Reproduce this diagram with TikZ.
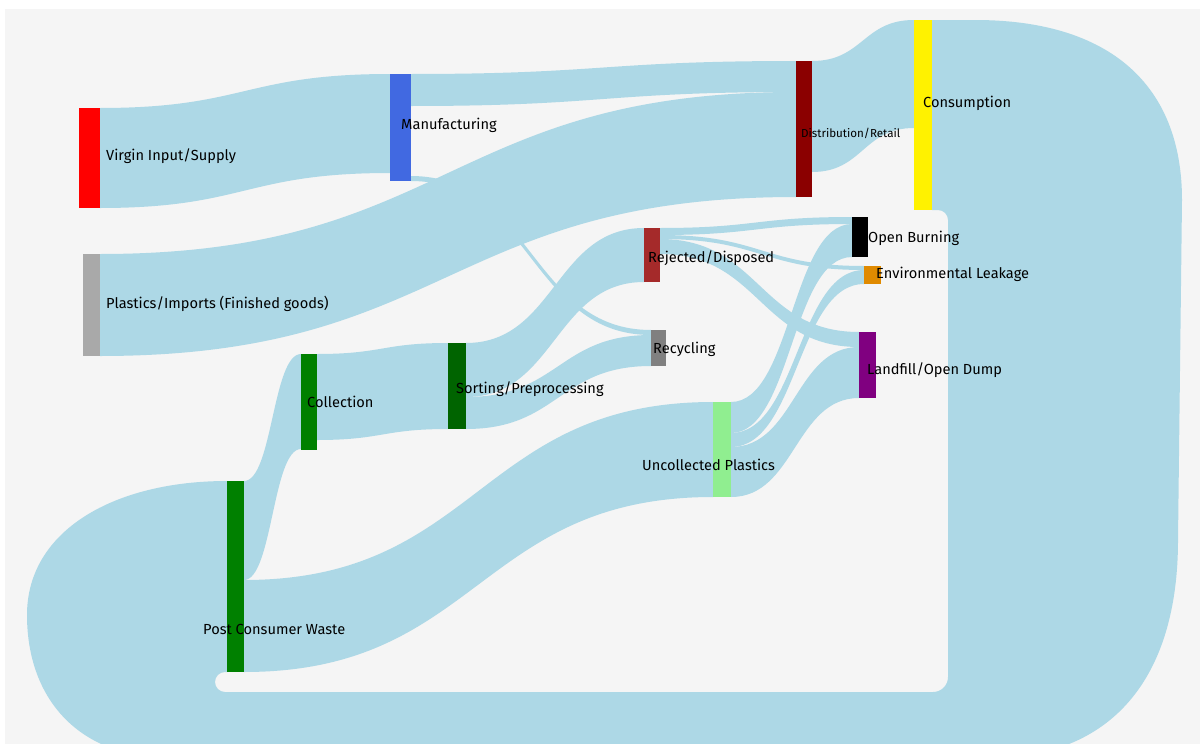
\documentclass[tikz,border=0pt]{standalone}
\usepackage{fontspec}
\setmainfont{Fira Sans}
\usetikzlibrary{calc}

\definecolor{flowblue}{HTML}{ADD8E6}
\definecolor{paper}{HTML}{F5F5F5}
\definecolor{royal}{HTML}{4169E1}
\definecolor{greyimp}{HTML}{A9A9A9}
\definecolor{darkredc}{HTML}{8B0000}
\definecolor{brownc}{HTML}{A52A2A}
\definecolor{lightgreenc}{HTML}{90EE90}
\definecolor{orangec}{HTML}{E08A00}
\definecolor{purplec}{HTML}{800080}
\definecolor{greenc}{HTML}{008000}
\definecolor{darkgreenc}{HTML}{006400}

\tikzset{
  bar/.style={rectangle, inner sep=0pt, outer sep=0pt, anchor=north west, draw=none},
  flow/.style={fill=flowblue},
  lbl/.style={anchor=west, inner sep=0pt, text=black, font=\fontsize{14.6}{17}\selectfont}
}

% band between two bars: source, top/bottom offset, target, top/bottom offset
\newcommand\band[6]{%
  \fill[flow] let \p1=(#1.north east), \p2=(#4.north west) in
    (\x1,\y1-#2pt) .. controls ({0.5*\x1+0.5*\x2},\y1-#2pt) and ({0.5*\x1+0.5*\x2},\y2-#5pt) .. (\x2,\y2-#5pt)
    -- (\x2,\y2-#6pt) .. controls ({0.5*\x1+0.5*\x2},\y2-#6pt) and ({0.5*\x1+0.5*\x2},\y1-#3pt) .. (\x1,\y1-#3pt) -- cycle;}

\begin{document}
\begin{tikzpicture}[x=1pt, y=-1pt]
  \useasboundingbox (0,0) rectangle (1200,744);
  \fill[white] (0,0) rectangle (1200,744);
  \fill[paper] (5,9) rectangle (1200,744);

  % bars
  \node[bar, fill=red, minimum width=21pt, minimum height=100pt] (virgin) at (79,108) {};
  \node[bar, fill=royal, minimum width=21pt, minimum height=107pt] (manuf) at (390,74) {};
  \node[bar, fill=greyimp, minimum width=17pt, minimum height=102pt] (imports) at (83,254) {};
  \node[bar, fill=darkredc, minimum width=16pt, minimum height=136pt] (distrib) at (796,61) {};
  \node[bar, fill=yellow, minimum width=18pt, minimum height=190pt] (consum) at (914,20) {};
  \node[bar, fill=greenc, minimum width=16pt, minimum height=96pt] (collect) at (301,354) {};
  \node[bar, fill=greenc, minimum width=17pt, minimum height=191pt] (pcw) at (227,481) {};
  \node[bar, fill=darkgreenc, minimum width=18pt, minimum height=86pt] (sorting) at (448,343) {};
  \node[bar, fill=brownc, minimum width=16pt, minimum height=54pt] (reject) at (644,228) {};
  \node[bar, fill=gray, minimum width=15pt, minimum height=36pt] (recyc) at (651,330) {};
  \node[bar, fill=lightgreenc, minimum width=18pt, minimum height=95pt] (uncoll) at (713,402) {};
  \node[bar, fill=black, minimum width=16pt, minimum height=40pt] (burn) at (852,217) {};
  \node[bar, fill=orangec, minimum width=17pt, minimum height=18pt] (leak) at (864,266) {};
  \node[bar, fill=purplec, minimum width=17pt, minimum height=66pt] (landfill) at (859,332) {};

  % flows
  \begin{scope}
    \clip (0,0) rectangle (1200,744);
    \band{virgin}{0}{100}{manuf}{0}{99}
    \band{manuf}{0}{32}{distrib}{0}{31}
    \band{manuf}{102}{107}{recyc}{0}{5}
    \band{imports}{0}{102}{distrib}{31}{136}
    \band{distrib}{0}{111}{consum}{0}{108}
    \band{pcw}{0}{99}{collect}{0}{95}
    \band{pcw}{99}{191}{uncoll}{0}{95}
    \band{collect}{0}{86}{sorting}{0}{86}
    \band{sorting}{0}{54}{reject}{0}{54}
    \band{sorting}{54}{86}{recyc}{5}{36}
    \band{reject}{0}{7}{burn}{0}{7}
    \band{reject}{7}{11}{leak}{0}{4}
    \band{reject}{11}{26}{landfill}{0}{15}
    \band{uncoll}{0}{31}{burn}{7}{40}
    \band{uncoll}{31}{45}{leak}{4}{18}
    \band{uncoll}{45}{95}{landfill}{15}{66}
    % consumption back to post consumer waste
    \fill[flow] (consum.north east) -- (975,20) .. controls (1110,20) and (1182,85) .. (1182,200)
      -- (1178,540) .. controls (1178,680) and (1110,758) .. (990,758)
      -- (170,758) .. controls (80,758) and (27,700) .. (27,615)
      .. controls (27,530) and (115,481) .. (pcw.north west)
      -- (pcw.south west) -- (225,672) .. controls (219.5,672) and (215,676.5) .. (215,682)
      .. controls (215,687.5) and (219.5,692) .. (225,692)
      -- (933,692) .. controls (941.3,692) and (948,685.3) .. (948,677)
      -- (948,220) .. controls (948,214.5) and (943.5,210) .. (938,210)
      -- (consum.south east) -- cycle;
  \end{scope}

  % redraw bars over the flows
  \foreach \b/\c in {virgin/red, manuf/royal, imports/greyimp, distrib/darkredc, consum/yellow,
                     collect/greenc, pcw/greenc, sorting/darkgreenc, reject/brownc, recyc/gray,
                     uncoll/lightgreenc, burn/black, leak/orangec, landfill/purplec}
    \fill[\c] (\b.north west) rectangle (\b.south east);

  % labels
  \node[lbl] (l-virgin) at (106,156) {Virgin Input/Supply};
  \node[lbl] (l-imports) at (106,304) {Plastics/Imports (Finished goods)};
  \node[lbl] (l-manuf) at (401,125) {Manufacturing};
  \node[lbl, font=\fontsize{11.6}{14}\selectfont] (l-distrib) at (801,133) {Distribution/Retail};
  \node[lbl] (l-consum) at (923,103) {Consumption};
  \node[lbl] (l-collect) at (307,402) {Collection};
  \node[lbl] (l-sorting) at (456,389) {Sorting/Preprocessing};
  \node[lbl] (l-reject) at (648,258) {Rejected/Disposed};
  \node[lbl] (l-recyc) at (653,349) {Recycling};
  \node[lbl] (l-uncoll) at (642,465) {Uncollected Plastics};
  \node[lbl] (l-burn) at (868,238) {Open Burning};
  \node[lbl] (l-leak) at (876,274) {Environmental Leakage};
  \node[lbl] (l-landfill) at (867,370) {Landfill/Open Dump};
  \node[lbl] (l-pcw) at (203,629) {Post Consumer Waste};
\end{tikzpicture}
\end{document}
